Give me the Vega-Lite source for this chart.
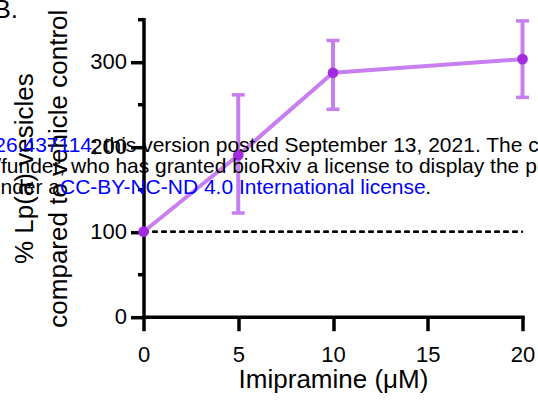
{
  "$schema": "https://vega.github.io/schema/vega-lite/v6.json",
  "width": 379,
  "height": 297.5,
  "autosize": {"type": "none"},
  "padding": {"left": 143.5, "top": 19.2, "right": 15.5, "bottom": 85.3},
  "background": "white",
  "config": {
    "view": {"stroke": null},
    "axis": {
      "grid": false,
      "domainColor": "black",
      "domainWidth": 3.5,
      "domainCap": "square",
      "tickColor": "black",
      "tickWidth": 3.5,
      "labelFont": "Liberation Sans",
      "labelFontSize": 22,
      "labelColor": "black",
      "titleFont": "Liberation Sans",
      "titleFontSize": 26,
      "titleFontWeight": "normal",
      "titleColor": "black"
    }
  },
  "data": {
    "values": [
      {"conc": 0, "pct": 100, "lo": 100, "hi": 100},
      {"conc": 5, "pct": 190, "lo": 122, "hi": 261},
      {"conc": 10, "pct": 287, "lo": 244, "hi": 325},
      {"conc": 20, "pct": 303, "lo": 258, "hi": 348}
    ]
  },
  "layer": [
    {
      "mark": {"type": "rule", "color": "black", "strokeWidth": 2, "strokeDash": [5, 4]},
      "encoding": {
        "x": {"datum": 0, "type": "quantitative", "scale": {"domain": [0, 20], "nice": false},
          "axis": {"values": [0, 5, 10, 15, 20], "tickSize": 14, "labelPadding": 14, "title": "Imipramine (\u03bcM)", "titlePadding": 1, "labelFlush": false}},
        "x2": {"datum": 20},
        "y": {"datum": 100, "type": "quantitative", "scale": {"domain": [0, 350], "nice": false},
          "axis": {"values": [0, 50, 100, 150, 200, 250, 300, 350],
            "tickSize": {"condition": {"test": "datum.value % 100 === 0", "value": 13}, "value": 6},
            "labelExpr": "datum.value % 100 === 0 ? datum.label : ''",
            "labelPadding": 4,
            "title": ["% Lp(a) vesicles", "compared to vehicle control"],
            "titleX": -111.5, "titleY": 149, "titleAngle": -90, "titleAlign": "center", "titleBaseline": "alphabetic", "titleLineHeight": 34}}
      }
    },
    {
      "transform": [{"filter": "datum.conc > 0"}],
      "mark": {"type": "rule", "color": "#c77ff0", "strokeWidth": 4},
      "encoding": {
        "x": {"field": "conc", "type": "quantitative"},
        "y": {"field": "lo", "type": "quantitative"},
        "y2": {"field": "hi"}
      }
    },
    {
      "transform": [{"filter": "datum.conc > 0"}],
      "mark": {"type": "tick", "orient": "horizontal", "color": "#c77ff0", "size": 13, "thickness": 3.5, "opacity": 1},
      "encoding": {
        "x": {"field": "conc", "type": "quantitative"},
        "y": {"field": "lo", "type": "quantitative"}
      }
    },
    {
      "transform": [{"filter": "datum.conc > 0"}],
      "mark": {"type": "tick", "orient": "horizontal", "color": "#c77ff0", "size": 13, "thickness": 3.5, "opacity": 1},
      "encoding": {
        "x": {"field": "conc", "type": "quantitative"},
        "y": {"field": "hi", "type": "quantitative"}
      }
    },
    {
      "mark": {"type": "line", "color": "#c77ff0", "strokeWidth": 4},
      "encoding": {
        "x": {"field": "conc", "type": "quantitative"},
        "y": {"field": "pct", "type": "quantitative"}
      }
    },
    {
      "mark": {"type": "point", "filled": true, "color": "#a32be0", "size": 115, "opacity": 1},
      "encoding": {
        "x": {"field": "conc", "type": "quantitative"},
        "y": {"field": "pct", "type": "quantitative"}
      }
    },
    {
      "data": {"values": [{"label": "https://doi.org/10.1101/2021.03.26.437114"}]},
      "mark": {"type": "text", "align": "right", "baseline": "alphabetic", "font": "Liberation Sans", "fontSize": 21, "color": "#0000ff"},
      "encoding": {"x": {"datum": -2.718}, "y": {"datum": 193.2}, "text": {"field": "label"}}
    },
    {
      "data": {"values": [{"label": "; this version posted September 13, 2021. The copyright holder for this preprint"}]},
      "mark": {"type": "text", "align": "left", "baseline": "alphabetic", "font": "Liberation Sans", "fontSize": 21, "color": "black"},
      "encoding": {"x": {"datum": -2.718}, "y": {"datum": 193.2}, "text": {"field": "label"}}
    },
    {
      "data": {"values": [{"label": "author/funder, who has granted bioRxiv a license to display the preprint in perpetuity. It is made available"}]},
      "mark": {"type": "text", "align": "left", "baseline": "alphabetic", "font": "Liberation Sans", "fontSize": 21, "color": "black"},
      "encoding": {"x": {"datum": -10.971}, "y": {"datum": 168.5}, "text": {"field": "label"}}
    },
    {
      "data": {"values": [{"label": "under a"}]},
      "mark": {"type": "text", "align": "right", "baseline": "alphabetic", "font": "Liberation Sans", "fontSize": 21, "color": "black"},
      "encoding": {"x": {"datum": -4.406}, "y": {"datum": 143.8}, "text": {"field": "label"}}
    },
    {
      "data": {"values": [{"label": "CC-BY-NC-ND 4.0 International license"}]},
      "mark": {"type": "text", "align": "left", "baseline": "alphabetic", "font": "Liberation Sans", "fontSize": 21, "color": "#0000ff"},
      "encoding": {"x": {"datum": -4.406}, "y": {"datum": 143.8}, "text": {"field": "label"}}
    },
    {
      "data": {"values": [{"label": "."}]},
      "mark": {"type": "text", "align": "left", "baseline": "alphabetic", "font": "Liberation Sans", "fontSize": 21, "color": "black"},
      "encoding": {"x": {"datum": 14.87}, "y": {"datum": 143.8}, "text": {"field": "label"}}
    },
    {
      "data": {"values": [{"label": "B."}]},
      "mark": {"type": "text", "align": "right", "baseline": "alphabetic", "font": "Liberation Sans", "fontSize": 26, "color": "black"},
      "encoding": {"x": {"datum": -6.623}, "y": {"datum": 351.4}, "text": {"field": "label"}}
    }
  ]
}
